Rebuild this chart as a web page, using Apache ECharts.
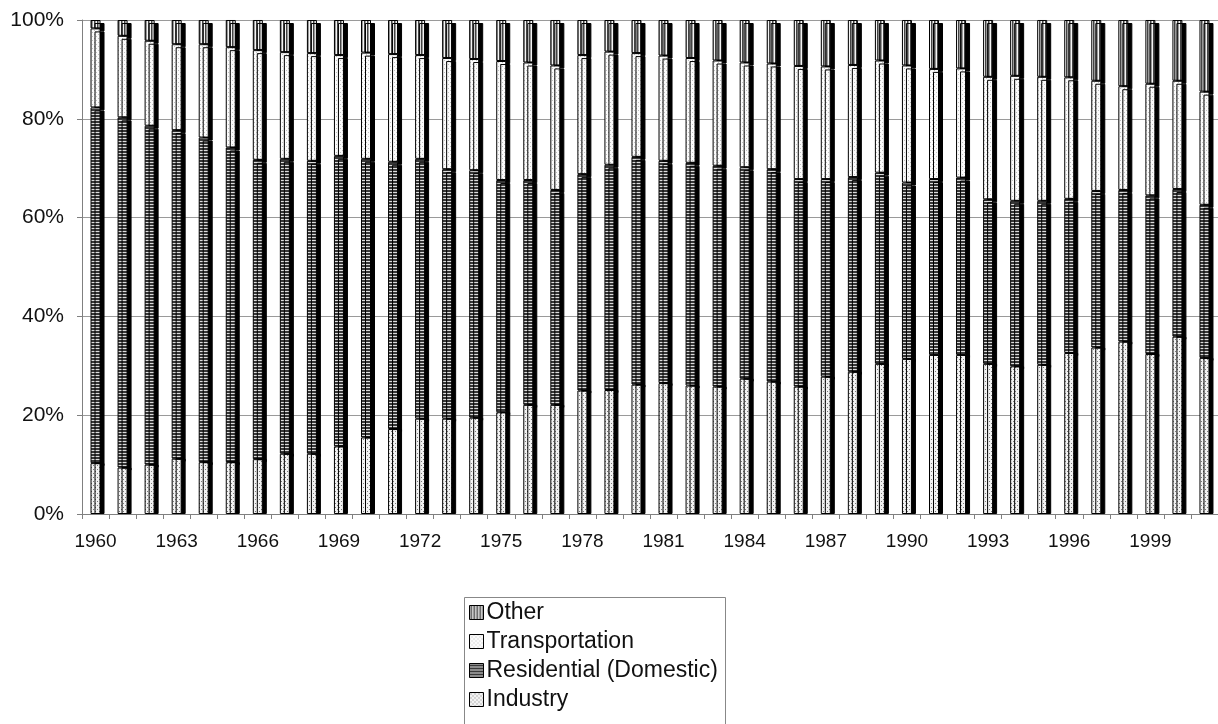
<!DOCTYPE html>
<html>
<head>
<meta charset="utf-8">
<script src="https://cdn.jsdelivr.net/npm/echarts@6/dist/echarts.min.js"></script>
<style>
  html, body { margin: 0; padding: 0; background: #fff; }
  #chart { width: 1218px; height: 724px; }
</style>
</head>
<body>
<div id="chart"></div>
<script>
// Share of final energy use by sector, 1960-2001 (percent of each year's total)
const years = ['1960','1961','1962','1963','1964','1965','1966','1967','1968','1969',
  '1970','1971','1972','1973','1974','1975','1976','1977','1978','1979',
  '1980','1981','1982','1983','1984','1985','1986','1987','1988','1989',
  '1990','1991','1992','1993','1994','1995','1996','1997','1998','1999',
  '2000','2001'];

const industry = [10.3, 9.4, 10.0, 11.2, 10.5, 10.5, 11.1, 12.2, 12.2, 13.7,
  15.5, 17.2, 19.3, 19.3, 19.5, 20.6, 22.1, 22.1, 25.0, 25.1,
  26.2, 26.5, 26.0, 25.8, 27.4, 26.8, 25.8, 27.8, 28.8, 30.4,
  31.4, 32.2, 32.2, 30.4, 29.9, 30.2, 32.6, 33.7, 34.9, 32.4,
  35.9, 31.6];

const residential = [72.0, 70.9, 68.6, 66.5, 65.7, 63.7, 60.6, 59.7, 59.3, 58.8,
  56.4, 54.1, 52.6, 50.5, 50.1, 47.0, 45.5, 43.5, 43.8, 45.6,
  46.1, 45.0, 45.1, 44.7, 42.8, 43.0, 42.0, 40.0, 39.4, 38.7,
  35.7, 35.6, 35.9, 33.3, 33.5, 33.2, 31.2, 31.7, 30.7, 32.1,
  29.9, 31.0];

const transportation = [16.0, 16.5, 17.2, 17.4, 18.9, 20.3, 22.2, 21.6, 21.8, 20.4,
  21.5, 21.8, 21.0, 22.5, 22.5, 24.1, 23.8, 25.2, 24.1, 22.9,
  21.0, 21.3, 21.2, 21.3, 21.2, 21.4, 22.9, 22.8, 22.7, 22.7,
  23.7, 22.3, 22.1, 24.8, 25.3, 25.1, 24.6, 22.3, 21.0, 22.6,
  21.9, 22.9];

const other = [1.7, 3.2, 4.2, 4.9, 4.9, 5.5, 6.1, 6.5, 6.7, 7.1,
  6.6, 6.9, 7.1, 7.7, 7.9, 8.3, 8.6, 9.2, 7.1, 6.4,
  6.7, 7.2, 7.7, 8.2, 8.6, 8.8, 9.3, 9.4, 9.1, 8.2,
  9.2, 9.9, 9.8, 11.5, 11.3, 11.5, 11.6, 12.3, 13.4, 12.9,
  12.3, 14.5];

const yTicks = [0, 20, 40, 60, 80, 100];

const FONT = "'Liberation Sans', Arial, Helvetica, sans-serif";

// Small repeating fills for the monochrome hatch styles
function pattern(w, h, bg, marks) {
  const c = document.createElement('canvas');
  c.width = w; c.height = h;
  const g = c.getContext('2d');
  g.fillStyle = bg;
  g.fillRect(0, 0, w, h);
  marks.forEach(([x, y, mw, mh, col]) => { g.fillStyle = col; g.fillRect(x, y, mw, mh); });
  return { image: c, repeat: 'repeat' };
}

const fillIndustry = pattern(4, 4, '#f2f2f2', [[1, 1, 1, 1, '#7a7a7a'], [3, 3, 1, 1, '#7a7a7a']]);
const fillResidential = pattern(1, 3, '#dcdcdc', [[0, 1, 1, 2, '#383838']]);
const fillTransport = pattern(4, 4, '#fbfbfb', [[0, 0, 1, 1, '#c0c0c0'], [2, 2, 1, 1, '#c0c0c0']]);
const fillOther = pattern(3, 1, '#f4f4f4', [[1, 0, 1, 1, '#444444'], [2, 0, 1, 1, '#999999']]);

function barSeries(name, values, fill, z, dropY) {
  return {
    name: name,
    type: 'bar',
    stack: 'total',
    barWidth: 10,
    z: z,
    data: values,
    itemStyle: {
      color: fill,
      borderColor: '#000',
      borderWidth: 1,
      shadowColor: '#000',
      shadowBlur: 0,
      shadowOffsetX: 4,
      shadowOffsetY: dropY
    },
    emphasis: { disabled: true }
  };
}

const chart = echarts.init(document.getElementById('chart'), null, { renderer: 'canvas' });

chart.setOption({
  animation: false,
  backgroundColor: '#fff',
  textStyle: { fontFamily: FONT },
  grid: { left: 82, right: 0, top: 20, bottom: 210, containLabel: false },
  // legend frame, open at the bottom edge of the page
  graphic: [{
    type: 'rect',
    left: 462,
    top: 595,
    shape: { width: 261, height: 160 },
    style: { fill: 'none', stroke: '#888', lineWidth: 1 },
    silent: true,
    z: 1
  }],
  legend: {
    orient: 'vertical',
    left: 464,
    top: 595,
    data: ['Other', 'Transportation', 'Residential (Domestic)', 'Industry'],
    icon: 'rect',
    itemWidth: 14,
    itemHeight: 14,
    itemGap: 6,
    padding: [6, 9, 0, 5],
    borderWidth: 0,
    itemStyle: {
      borderColor: '#000',
      borderWidth: 1,
      shadowColor: 'rgba(0,0,0,0)',
      shadowBlur: 0,
      shadowOffsetX: 0,
      shadowOffsetY: 0
    },
    textStyle: { fontSize: 23, color: '#111', fontFamily: FONT, padding: [0, 0, 0, -2] }
  },
  xAxis: {
    type: 'category',
    data: years,
    boundaryGap: true,
    axisLine: { lineStyle: { color: '#808080', width: 1 } },
    axisTick: { show: true, interval: 0, length: 5, lineStyle: { color: '#808080' } },
    axisLabel: { interval: 2, fontSize: 19, color: '#111', margin: 18, fontFamily: FONT }
  },
  yAxis: {
    type: 'value',
    min: yTicks[0],
    max: yTicks[yTicks.length - 1],
    interval: yTicks[1] - yTicks[0],
    axisLine: { show: true, lineStyle: { color: '#808080', width: 1 } },
    axisTick: { show: true, length: 5, lineStyle: { color: '#808080' } },
    axisLabel: { formatter: '{value}%', fontSize: 21, color: '#111', margin: 18, fontFamily: FONT },
    splitLine: { show: true, lineStyle: { color: '#9a9a9a', width: 1 } }
  },
  series: [
    barSeries('Industry', industry, fillIndustry, 6, 0),
    barSeries('Residential (Domestic)', residential, fillResidential, 5, 3),
    barSeries('Transportation', transportation, fillTransport, 4, 3),
    barSeries('Other', other, fillOther, 3, 3)
  ]
});
</script>
</body>
</html>
